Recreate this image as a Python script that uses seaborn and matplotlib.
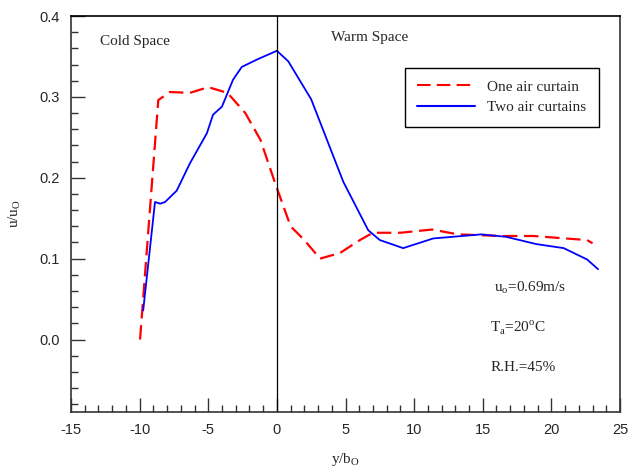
import numpy as np
import pandas as pd
import matplotlib
matplotlib.use("Agg")
import matplotlib.pyplot as plt
import seaborn as sns
from matplotlib.ticker import MultipleLocator

# Data
one_x = [-9.97, -8.64, -7.8, -6.33, -5.0, -3.6, -2.3, -1.2, -0.1, 1.0, 2.0, 3.14,
         4.6, 6.05, 7.0, 9.0, 11.3, 13.2, 16.3, 18.7, 21.0, 22.6, 23.0]
one_y = [0.0, 0.296, 0.306, 0.305, 0.312, 0.305, 0.28, 0.247, 0.192, 0.14, 0.123, 0.100,
         0.107, 0.123, 0.132, 0.132, 0.136, 0.130, 0.128, 0.128, 0.125, 0.123, 0.119]

two_x = [-9.74, -8.88, -8.5, -8.15, -7.3, -6.33, -5.1, -4.65, -4.0, -3.2, -2.56, -1.47,
         0.0, 0.83, 2.5, 4.84, 6.66, 7.5, 9.2, 11.4, 14.9, 16.7, 18.9, 20.9, 22.6, 23.4]
two_y = [0.036, 0.170, 0.168, 0.170, 0.184, 0.218, 0.255, 0.278, 0.288, 0.321, 0.337, 0.346,
         0.357, 0.344, 0.297, 0.195, 0.135, 0.123, 0.113, 0.125, 0.130, 0.127, 0.118, 0.113,
         0.099, 0.087]

series_names = ["One air curtain", "Two air curtains"]
x_ticks = [-15, -10, -5, 0, 5, 10, 15, 20, 25]
y_ticks = [0.0, 0.1, 0.2, 0.3, 0.4]

df = pd.concat([
    pd.DataFrame({"x": one_x, "y": one_y, "series": series_names[0]}),
    pd.DataFrame({"x": two_x, "y": two_y, "series": series_names[1]}),
], ignore_index=True)

sns.set_style("ticks")
serif = ["Liberation Serif", "DejaVu Serif"]
plt.rcParams["font.family"] = ["Liberation Sans", "DejaVu Sans"]

fig = plt.figure(figsize=(6.3, 4.72), dpi=100)
ax = fig.add_axes([71 / 630, 60 / 472, 549 / 630, 396 / 472])

sns.lineplot(data=df, x="x", y="y", hue="series", style="series",
             palette={series_names[0]: "#ff0000", series_names[1]: "#0000ff"},
             dashes={series_names[0]: (6.5, 3), series_names[1]: ""},
             estimator=None, sort=False, ax=ax, legend=True)
for line, lw in zip(ax.get_lines()[:2], [1.6, 1.3]):
    line.set_linewidth(lw)

ax.axvline(0, color="black", lw=0.9)

ax.set_xlim(-15, 25)
ax.set_ylim(-0.0896, 0.4)
ax.set_xticks(x_ticks)
ax.set_xticklabels([str(t) for t in x_ticks])
ax.set_yticks(y_ticks)
ax.set_yticklabels([f"{t:.1f}" for t in y_ticks])
ax.xaxis.set_minor_locator(MultipleLocator(1))
ax.yaxis.set_minor_locator(MultipleLocator(0.02))
ax.tick_params(which="major", direction="in", length=10, width=1, color="#333333",
               labelsize=10.5, top=False, right=False, pad=8)
ax.tick_params(which="minor", direction="in", length=5, width=1, color="#333333",
               top=False, right=False)
for s in ax.spines.values():
    s.set_visible(True)
    s.set_color("#333333")
    s.set_linewidth(1.2)
ax.spines["top"].set_color("black")

ax.set_xlabel(r"y/b$_\mathregular{O}$", family=serif, fontsize=11, labelpad=10)
ax.set_ylabel(r"u/u$_\mathregular{O}$", family=serif, fontsize=11, labelpad=12)

ax.text(0.053, 0.935, "Cold Space", transform=ax.transAxes, family=serif, fontsize=11,
        va="center", ha="left")
ax.text(0.474, 0.945, "Warm Space", transform=ax.transAxes, family=serif, fontsize=11,
        va="center", ha="left")
ax.text(0.77, 0.313, r"u$_\mathregular{o}$=0.69m/s", transform=ax.transAxes, family=serif,
        fontsize=11, va="center", ha="left")
ax.text(0.764, 0.213, r"T$_\mathregular{a}$=20$^\mathregular{o}$C", transform=ax.transAxes,
        family=serif, fontsize=11, va="center", ha="left")
ax.text(0.764, 0.112, "R.H.=45%", transform=ax.transAxes, family=serif, fontsize=11,
        va="center", ha="left")

handles, labels = ax.get_legend_handles_labels()
leg = ax.legend(handles[:2], labels[:2], loc="upper left", bbox_to_anchor=(0.608, 0.869),
                borderaxespad=0, fancybox=False, frameon=True, edgecolor="black",
                prop={"family": serif, "size": 11}, handlelength=3.8, handletextpad=0.8,
                borderpad=0.8, labelspacing=0.45)
leg.get_frame().set_linewidth(1.0)
leg.get_frame().set_alpha(1)

fig.savefig("out.png", dpi=100)
